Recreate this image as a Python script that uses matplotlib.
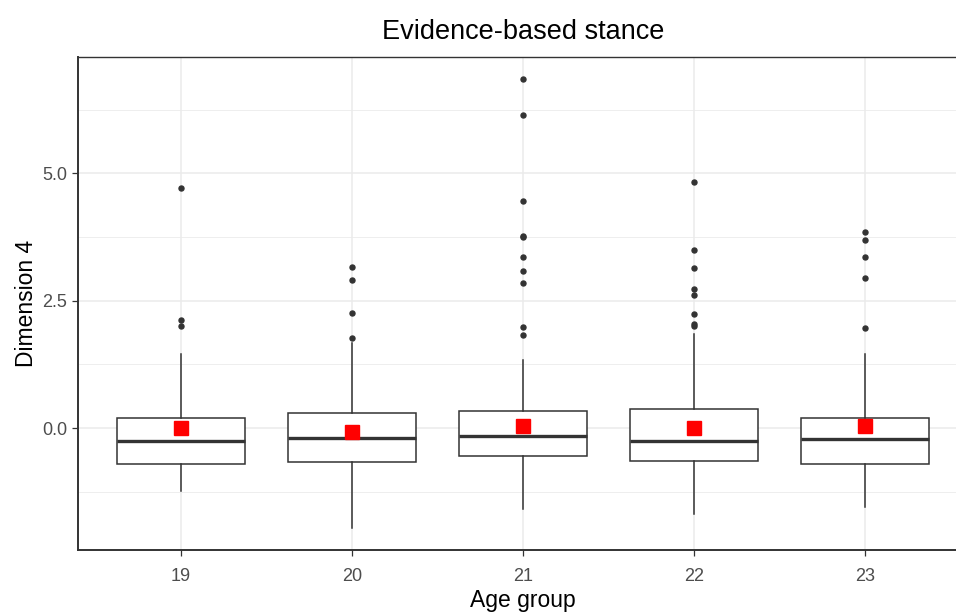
import matplotlib
matplotlib.use("Agg")
import matplotlib.pyplot as plt
from matplotlib.ticker import MultipleLocator

plt.rcParams['font.family'] = ['Liberation Sans', 'DejaVu Sans']

groups = ["19", "20", "21", "22", "23"]
q1 = [-0.71, -0.66, -0.55, -0.64, -0.71]
median = [-0.25, -0.19, -0.16, -0.25, -0.21]
q3 = [0.20, 0.30, 0.33, 0.37, 0.20]
whisker_low = [-1.24, -1.95, -1.59, -1.69, -1.55]
whisker_high = [1.46, 1.68, 1.34, 1.84, 1.45]
means = [0.01, -0.08, 0.04, 0.01, 0.04]
outliers = [
    [2.00, 2.12, 4.71],
    [1.77, 2.25, 2.91, 3.17],
    [1.82, 1.99, 2.85, 3.08, 3.36, 3.74, 3.76, 4.45, 6.15, 6.84],
    [2.00, 2.04, 2.23, 2.62, 2.73, 3.14, 3.50, 4.82],
    [1.97, 2.94, 3.36, 3.70, 3.84],
]

fig = plt.figure(figsize=(9.56, 6.12), dpi=100)
ax = fig.add_axes([78/956, 1-550/612, (968-78)/956, (550-57)/612])

stats = []
for i in range(len(groups)):
    stats.append(dict(med=median[i], q1=q1[i], q3=q3[i], whislo=whisker_low[i],
                      whishi=whisker_high[i], fliers=outliers[i], mean=means[i],
                      label=groups[i]))

dark = '#333333'
positions = list(range(1, len(groups) + 1))
ax.bxp(stats, positions=positions, widths=0.75, showmeans=True, showcaps=False,
       patch_artist=True,
       boxprops=dict(facecolor='white', edgecolor=dark, linewidth=1.1),
       medianprops=dict(color=dark, linewidth=2.4),
       whiskerprops=dict(color=dark, linewidth=1.1),
       flierprops=dict(marker='o', markerfacecolor=dark, markeredgecolor=dark,
                       markersize=3.6),
       meanprops=dict(marker='s', markerfacecolor='red', markeredgecolor='red',
                      markersize=9.5),
       zorder=3)

ax.set_xlim(0.4, 5.6)
ax.set_ylim(-2.39, 7.28)
ax.yaxis.set_minor_locator(MultipleLocator(1.25))
ax.set_yticks([0.0, 2.5, 5.0])
ax.set_yticklabels(["0.0", "2.5", "5.0"])
ax.set_xticks(positions)
ax.set_xticklabels(groups)

ax.grid(True, which='major', color='#EBEBEB', linewidth=1.1, zorder=0)
ax.grid(True, which='minor', axis='y', color='#EBEBEB', linewidth=0.6, zorder=0)
ax.set_axisbelow(True)
ax.tick_params(which='minor', length=0)
ax.tick_params(which='major', length=4.3, width=0.9, color=dark,
               labelcolor='#4D4D4D', labelsize=13)
ax.tick_params(axis='y', pad=3.5)
ax.tick_params(axis='x', pad=9)

for s in ax.spines.values():
    s.set_color(dark)
    s.set_linewidth(1.0)
ax.spines['left'].set_linewidth(1.4)
ax.spines['bottom'].set_linewidth(1.4)

ax.set_title("Evidence-based stance", fontsize=19.5, color='black', pad=13)
ax.set_xlabel("Age group", fontsize=16.5, color='black', labelpad=2.8)
ax.set_ylabel("Dimension 4", fontsize=16.5, color='black', labelpad=3)

fig.savefig("out.png", dpi=100)
